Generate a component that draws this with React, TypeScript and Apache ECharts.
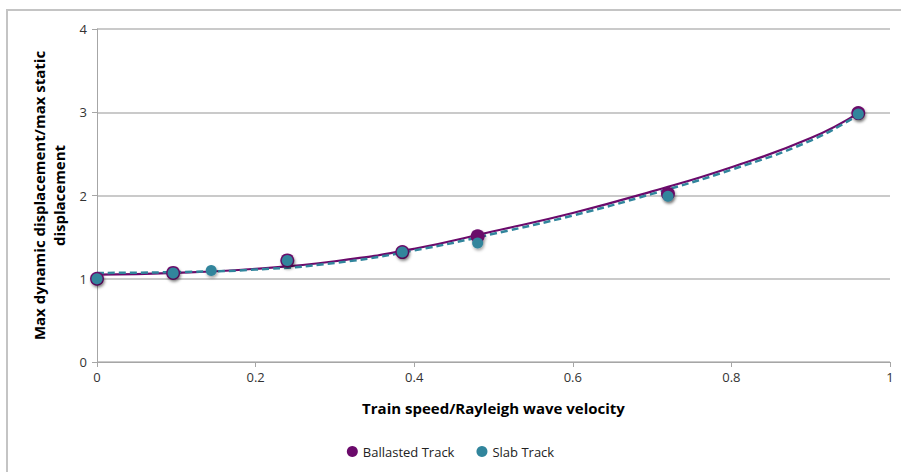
import React, { useEffect, useRef } from "react";
import * as echarts from "echarts";

const ballastedX = [0, 0.096, 0.24, 0.385, 0.48, 0.72, 0.96];
const ballastedY = [1.0, 1.07, 1.22, 1.32, 1.51, 2.02, 2.99];
const slabX = [0, 0.096, 0.144, 0.24, 0.385, 0.48, 0.72, 0.96];
const slabY = [1.0, 1.07, 1.1, 1.22, 1.32, 1.43, 1.99, 2.98];

const trendX = [0, 0.1, 0.2, 0.3, 0.4, 0.5, 0.6, 0.7, 0.8, 0.9, 0.96];
const ballastedTrend = [1.05, 1.07, 1.12, 1.21, 1.36, 1.57, 1.79, 2.05, 2.34, 2.69, 2.99];
const slabTrend = [1.07, 1.08, 1.11, 1.19, 1.34, 1.54, 1.76, 2.02, 2.31, 2.66, 2.97];

const xTitle = "Train speed/Rayleigh wave velocity";
const yTitle = "Max dynamic displacement/max static\ndisplacement";

const PURPLE = "#6b0a6b";
const TEAL = "#31859c";

export default function App() {
  const ref = useRef<HTMLDivElement>(null);
  useEffect(() => {
    const chart = echarts.init(ref.current!, null, { renderer: "svg" });
    const zip = (xs: number[], ys: number[]) => xs.map((x, i) => [x, ys[i]]);
    chart.setOption({
      animation: false,
      backgroundColor: "#ffffff",
      textStyle: { fontFamily: "'Open Sans', Lato, sans-serif" },
      grid: { left: 97, right: 11, top: 29, bottom: 110 },
      graphic: [
        {
          type: "rect",
          shape: { x: 7, y: 10, width: 900, height: 470 },
          style: { fill: "none", stroke: "#c4c4c4", lineWidth: 2 },
          silent: true,
        },
      ],
      xAxis: {
        type: "value",
        min: 0,
        max: 1,
        interval: 0.2,
        name: xTitle,
        nameLocation: "middle",
        nameGap: 38,
        nameTextStyle: { fontSize: 15, fontWeight: "bold", color: "#000" },
        axisLine: { show: true, lineStyle: { color: "#a6a6a6", width: 1 } },
        axisTick: { show: true, length: 5, lineStyle: { color: "#a6a6a6" } },
        axisLabel: { color: "#333", fontSize: 13, margin: 8 },
        splitLine: { show: false },
      },
      yAxis: {
        type: "value",
        min: 0,
        max: 4,
        interval: 1,
        name: yTitle,
        nameLocation: "middle",
        nameGap: 28,
        nameRotate: 90,
        nameTextStyle: { fontSize: 15, fontWeight: "bold", color: "#000", lineHeight: 20 },
        axisLine: { show: true, lineStyle: { color: "#a6a6a6", width: 1 } },
        axisTick: { show: true, length: 5, lineStyle: { color: "#a6a6a6" } },
        axisLabel: { color: "#333", fontSize: 13, margin: 10 },
        splitLine: { show: true, lineStyle: { color: "#b8b8b8", width: 1.5 } },
      },
      legend: {
        bottom: 9,
        left: "center",
        itemGap: 22,
        itemWidth: 11,
        itemHeight: 11,
        textStyle: { fontSize: 13, color: "#222" },
        data: [
          { name: "Ballasted Track", icon: "circle" },
          { name: "Slab Track", icon: "circle" },
        ],
      },
      series: [
        {
          name: "Ballasted trend",
          type: "line",
          data: zip(trendX, ballastedTrend),
          smooth: true,
          showSymbol: false,
          symbol: "none",
          lineStyle: { color: PURPLE, width: 2.2 },
          z: 3,
        },
        {
          name: "Slab trend",
          type: "line",
          data: zip(trendX, slabTrend),
          smooth: true,
          showSymbol: false,
          symbol: "none",
          lineStyle: { color: TEAL, width: 2.5, type: [7, 4] },
          z: 3,
        },
        {
          name: "Ballasted Track",
          type: "scatter",
          data: zip(ballastedX, ballastedY),
          symbol: "circle",
          symbolSize: 14,
          itemStyle: {
            color: PURPLE,
            opacity: 1,
            shadowColor: "rgba(0,0,0,0.35)",
            shadowBlur: 3,
            shadowOffsetX: 1,
            shadowOffsetY: 2,
          },
          z: 4,
        },
        {
          name: "Slab Track",
          type: "scatter",
          data: zip(slabX, slabY),
          symbol: "circle",
          symbolSize: 11,
          itemStyle: {
            color: TEAL,
            opacity: 1,
            shadowColor: "rgba(0,0,0,0.35)",
            shadowBlur: 3,
            shadowOffsetX: 1,
            shadowOffsetY: 2,
          },
          z: 5,
        },
      ],
    });
    return () => chart.dispose();
  }, []);
  return <div ref={ref} style={{ width: 901, height: 472, position: "absolute", left: 0, top: 0 }} />;
}
